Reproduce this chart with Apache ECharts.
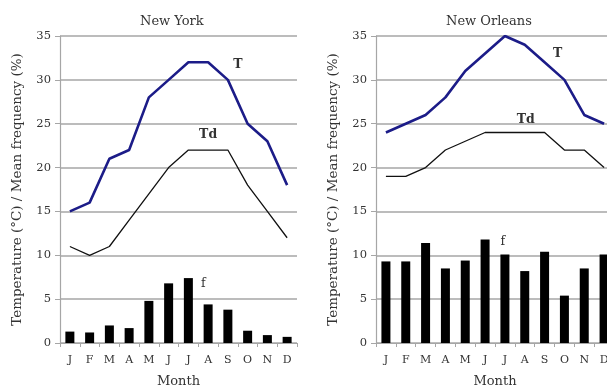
<!DOCTYPE html>
<html>
<head>
<meta charset="utf-8">
<script src="https://cdn.jsdelivr.net/npm/echarts@6/dist/echarts.min.js"></script>
<style>
  html, body { margin: 0; padding: 0; background: #fff; }
  #main { width: 607px; height: 389px; }
</style>
</head>
<body>
<div id="main"></div>
<script>
var months = ['J', 'F', 'M', 'A', 'M', 'J', 'J', 'A', 'S', 'O', 'N', 'D'];

// New York
var ny_t  = [15, 16, 21, 22, 28, 30, 32, 32, 30, 25, 23, 18];
var ny_td = [11, 10, 11, 14, 17, 20, 22, 22, 22, 18, 15, 12];
var ny_f  = [1.3, 1.2, 2.0, 1.7, 4.8, 6.8, 7.4, 4.4, 3.8, 1.4, 0.9, 0.7];

// New Orleans
var no_t  = [24, 25, 26, 28, 31, 33, 35, 34, 32, 30, 26, 25];
var no_td = [19, 19, 20, 22, 23, 24, 24, 24, 24, 22, 22, 20];
var no_f  = [9.3, 9.3, 11.4, 8.5, 9.4, 11.8, 10.1, 8.2, 10.4, 5.4, 8.5, 10.1];

var yTicks = [0, 5, 10, 15, 20, 25, 30, 35];

var myChart = echarts.init(document.getElementById('main'));

var font = 'DejaVu Serif';
var gridColor = '#a6a6a6';
var textColor = '#333';

function xAxisFor(idx) {
    return {
        type: 'category',
        gridIndex: idx,
        data: months,
        boundaryGap: true,
        name: 'Month',
        nameLocation: 'middle',
        nameGap: 32,
        nameTextStyle: { fontFamily: font, fontSize: 13, color: textColor },
        axisLine: { lineStyle: { color: gridColor, width: 1.2 } },
        axisTick: { show: true, length: 4, lineStyle: { color: gridColor } },
        axisLabel: { fontFamily: font, fontSize: 11, color: textColor, margin: 12, interval: 0 }
    };
}

function yAxisFor(idx) {
    return {
        type: 'value',
        gridIndex: idx,
        min: yTicks[0],
        max: yTicks[yTicks.length - 1],
        interval: 5,
        name: 'Temperature (°C) / Mean frequency (%)',
        nameLocation: 'middle',
        nameGap: 36,
        nameTextStyle: { fontFamily: font, fontSize: 13.5, color: textColor },
        axisLine: { show: true, lineStyle: { color: gridColor, width: 1.2 } },
        axisTick: { show: true, length: 5, lineStyle: { color: gridColor } },
        axisLabel: { fontFamily: font, fontSize: 11.5, color: textColor, margin: 9 },
        splitLine: { lineStyle: { color: gridColor, width: 1.5 } }
    };
}

function tag(text, coord, offset, weight) {
    return {
        coord: coord,
        symbol: 'circle',
        symbolSize: 0,
        label: {
            show: true,
            formatter: text,
            position: 'inside',
            offset: offset,
            fontFamily: font,
            fontSize: 12.5,
            fontWeight: weight || 'bold',
            color: textColor
        }
    };
}

option = {
    animation: false,
    title: [{
        text: 'New York',
        left: 135,
        top: 10,
        textStyle: { fontFamily: font, fontSize: 13, fontWeight: 'normal', color: textColor }
    }, {
        text: 'New Orleans',
        left: 441,
        top: 10,
        textStyle: { fontFamily: font, fontSize: 13, fontWeight: 'normal', color: textColor }
    }],
    grid: [
        { left: 60, top: 36, width: 237, height: 307, outerBoundsMode: 'none' },
        { left: 376, top: 36, width: 238, height: 307, outerBoundsMode: 'none' }
    ],
    xAxis: [xAxisFor(0), xAxisFor(1)],
    yAxis: [yAxisFor(0), yAxisFor(1)],
    series: [{
        name: 'f NY',
        type: 'bar',
        xAxisIndex: 0,
        yAxisIndex: 0,
        data: ny_f,
        barWidth: 9,
        itemStyle: { color: '#000' },
        markPoint: { data: [tag('f', [6, 6.8], [15, 0], 'normal')] }
    }, {
        name: 'Td NY',
        type: 'line',
        xAxisIndex: 0,
        yAxisIndex: 0,
        data: ny_td,
        symbol: 'none',
        lineStyle: { color: '#111', width: 1.3 },
        markPoint: { data: [tag('Td', [7, 23.7], [0, 0])] }
    }, {
        name: 'T NY',
        type: 'line',
        xAxisIndex: 0,
        yAxisIndex: 0,
        data: ny_t,
        symbol: 'none',
        lineStyle: { color: '#1c1c88', width: 2.6 },
        markPoint: { data: [tag('T', [8, 31.7], [10, 0])] }
    }, {
        name: 'f NO',
        type: 'bar',
        xAxisIndex: 1,
        yAxisIndex: 1,
        data: no_f,
        barWidth: 9,
        itemStyle: { color: '#000' },
        markPoint: { data: [tag('f', [6, 11.6], [-2, 0], 'normal')] }
    }, {
        name: 'Td NO',
        type: 'line',
        xAxisIndex: 1,
        yAxisIndex: 1,
        data: no_td,
        symbol: 'none',
        lineStyle: { color: '#111', width: 1.3 },
        markPoint: { data: [tag('Td', [7, 25.5], [1, 0])] }
    }, {
        name: 'T NO',
        type: 'line',
        xAxisIndex: 1,
        yAxisIndex: 1,
        data: no_t,
        symbol: 'none',
        lineStyle: { color: '#1c1c88', width: 2.6 },
        markPoint: { data: [tag('T', [8, 33.0], [13, 0])] }
    }]
};

myChart.setOption(option);
</script>
</body>
</html>
